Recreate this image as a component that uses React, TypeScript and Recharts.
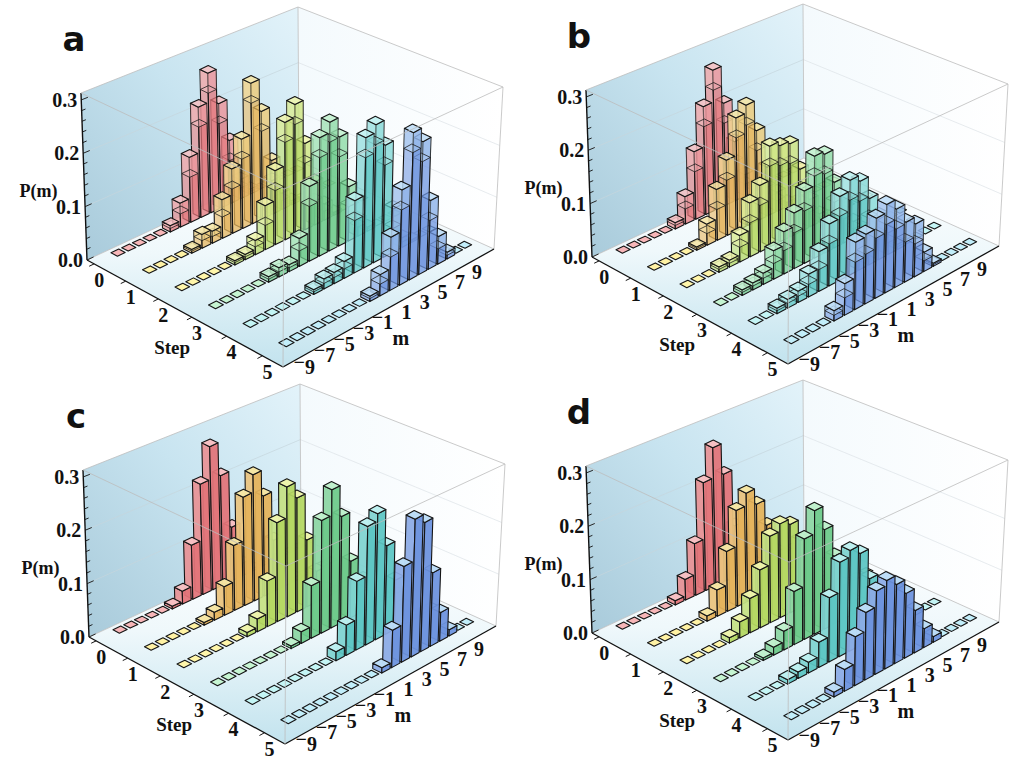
import React from 'react';
import { ComposedChart, Bar, Scatter, XAxis, YAxis, ReferenceLine } from 'recharts';

// ---------- categories / ticks ----------
const M_VALUES = [-9, -8, -7, -6, -5, -4, -3, -2, -1, 0, 1, 2, 3, 4, 5, 6, 7, 8, 9];
const STEP_VALUES = [0, 1, 2, 3, 4, 5];
const M_TICKS = [-9, -7, -5, -3, -1, 1, 3, 5, 7, 9];
const P_TICKS = [0, 0.1, 0.2, 0.3];

// ---------- panel a : P(m) per step (m = -9..9) ----------
const aStep0 = [0, 0, 0, 0, 0, 0.012, 0.046, 0.126, 0.215, 0.273, 0.205, 0.124, 0.038, 0.01, 0, 0, 0, 0, 0];
const aStep1 = [0, 0, 0, 0, 0.007, 0.026, 0.023, 0.074, 0.124, 0.173, 0.273, 0.21, 0.105, 0.032, 0.008, 0, 0, 0, 0];
const aStep2 = [0, 0, 0, 0, 0, 0.008, 0.01, 0.027, 0.084, 0.142, 0.226, 0.252, 0.168, 0.084, 0.032, 0.006, 0, 0, 0];
const aStep3 = [0, 0, 0, 0, 0, 0.01, 0.017, 0.013, 0.053, 0.142, 0.226, 0.247, 0.21, 0.105, 0.032, 0.008, 0, 0, 0];
const aStep4 = [0, 0, 0, 0, 0, 0, 0.009, 0.019, 0.021, 0.032, 0.137, 0.247, 0.263, 0.215, 0.084, 0.019, 0.005, 0, 0];
const aStep5 = [0, 0, 0, 0, 0, 0, 0, 0, 0.01, 0.04, 0.1, 0.179, 0.278, 0.252, 0.131, 0.053, 0.013, 0, 0];

// ---------- panel b ----------
const bStep0 = [0, 0, 0, 0, 0, 0.012, 0.053, 0.131, 0.21, 0.273, 0.2, 0.116, 0.042, 0.01, 0, 0, 0, 0, 0];
const bStep1 = [0, 0, 0, 0, 0.006, 0.04, 0.097, 0.144, 0.217, 0.233, 0.175, 0.095, 0.037, 0.008, 0, 0, 0, 0, 0];
const bStep2 = [0, 0, 0, 0.01, 0.013, 0.05, 0.102, 0.126, 0.192, 0.184, 0.179, 0.121, 0.053, 0.016, 0, 0, 0, 0, 0];
const bStep3 = [0, 0, 0.01, 0.013, 0.021, 0.053, 0.079, 0.105, 0.137, 0.194, 0.189, 0.126, 0.084, 0.032, 0.008, 0, 0, 0, 0];
const bStep4 = [0, 0, 0.01, 0.016, 0.021, 0.042, 0.074, 0.116, 0.158, 0.179, 0.168, 0.126, 0.084, 0.042, 0.01, 0, 0, 0, 0];
const bStep5 = [0, 0, 0, 0, 0.019, 0.058, 0.124, 0.129, 0.149, 0.165, 0.147, 0.113, 0.1, 0.037, 0.006, 0, 0, 0, 0];

// ---------- panel c ----------
const cStep0 = [0, 0, 0, 0, 0, 0.005, 0.025, 0.105, 0.215, 0.28, 0.215, 0.105, 0.025, 0.005, 0, 0, 0, 0, 0];
const cStep1 = [0, 0, 0, 0, 0, 0.005, 0.015, 0.055, 0.125, 0.21, 0.245, 0.195, 0.1, 0.035, 0.008, 0, 0, 0, 0];
const cStep2 = [0, 0, 0, 0, 0, 0, 0.008, 0.024, 0.087, 0.19, 0.25, 0.22, 0.13, 0.06, 0.015, 0, 0, 0, 0];
const cStep3 = [0, 0, 0, 0, 0, 0, 0, 0.005, 0.022, 0.1, 0.215, 0.265, 0.205, 0.11, 0.04, 0.01, 0, 0, 0];
const cStep4 = [0, 0, 0, 0, 0, 0, 0, 0, 0.017, 0.057, 0.13, 0.225, 0.24, 0.17, 0.095, 0.035, 0.008, 0, 0];
const cStep5 = [0, 0, 0, 0, 0, 0, 0, 0, 0, 0.01, 0.07, 0.18, 0.26, 0.245, 0.14, 0.055, 0.012, 0, 0];

// ---------- panel d ----------
const dStep0 = [0, 0, 0, 0, 0, 0.008, 0.04, 0.1, 0.21, 0.27, 0.21, 0.1, 0.035, 0.008, 0, 0, 0, 0, 0];
const dStep1 = [0, 0, 0, 0, 0, 0.01, 0.05, 0.115, 0.185, 0.21, 0.18, 0.13, 0.07, 0.025, 0.006, 0, 0, 0, 0];
const dStep2 = [0, 0, 0, 0, 0.01, 0.03, 0.065, 0.11, 0.165, 0.18, 0.17, 0.13, 0.08, 0.04, 0.015, 0.005, 0, 0, 0];
const dStep3 = [0, 0, 0, 0, 0.005, 0.015, 0.035, 0.1, 0.19, 0.235, 0.19, 0.13, 0.065, 0.025, 0.008, 0, 0, 0, 0];
const dStep4 = [0, 0, 0, 0.008, 0.012, 0.02, 0.047, 0.12, 0.177, 0.19, 0.175, 0.118, 0.07, 0.03, 0.01, 0, 0, 0, 0];
const dStep5 = [0, 0, 0, 0, 0.009, 0.04, 0.09, 0.125, 0.155, 0.165, 0.148, 0.122, 0.08, 0.036, 0.011, 0, 0, 0, 0];

// ---------- styling ----------
const SIDE = ['#e27479', '#e4b35a', '#b5d862', '#6cca8a', '#5cc6c4', '#6c93de'];
const TOP = ['#f7bfc2', '#f6e5a3', '#eef4aa', '#bff0cc', '#bcf0f0', '#bcdcf7'];
const FLAT = ['#f7b6b8', '#fff2a4', '#fff6aa', '#c6f5d2', '#c4f5f5', '#c2eefa'];
const LABEL_FONT = '"Liberation Serif", "Times New Roman", serif';

const W = 512;
const H = 385;

// ---------- perspective camera (box corners on screen) ----------
type Pt = [number, number];
const GROUND: Pt[] = [[87, 260], [299, 161], [494, 249], [283, 367]];
const CEIL: Pt[] = [[81, 93], [298, 7], [503, 87], [284, 189]];
const M_LO = -11.2, M_HI = 10.0, S_LO = -0.23, S_HI = 5.56, P_HI = 0.313;
const BAR_HALF_M = 0.42, BAR_HALF_S = 0.125;
const FLAT_SCALE_M = 0.86, FLAT_SCALE_S = 0.82;

function makeQuadMap(q: Pt[]) {
  const [[x0, y0], [x1, y1], [x2, y2], [x3, y3]] = q;
  const dx1 = x1 - x2, dx2 = x3 - x2, dx3 = x0 - x1 + x2 - x3;
  const dy1 = y1 - y2, dy2 = y3 - y2, dy3 = y0 - y1 + y2 - y3;
  const den = dx1 * dy2 - dx2 * dy1;
  const g = (dx3 * dy2 - dx2 * dy3) / den;
  const h = (dx1 * dy3 - dx3 * dy1) / den;
  const a = x1 - x0 + g * x1, b = x3 - x0 + h * x3, c = x0;
  const d = y1 - y0 + g * y1, e = y3 - y0 + h * y3, f = y0;
  return (u: number, v: number): Pt => {
    const w = g * u + h * v + 1;
    return [(a * u + b * v + c) / w, (d * u + e * v + f) / w];
  };
}
const groundMap = makeQuadMap(GROUND);
const ceilMap = makeQuadMap(CEIL);

function proj(m: number, s: number, p: number): Pt {
  const u = (m - M_LO) / (M_HI - M_LO);
  const v = (s - S_LO) / (S_HI - S_LO);
  const g = groundMap(u, v);
  const c = ceilMap(u, v);
  const t = p / P_HI;
  return [g[0] + (c[0] - g[0]) * t, g[1] + (c[1] - g[1]) * t];
}

function mix(hex: string, target: number, k: number) {
  const n = parseInt(hex.slice(1), 16);
  const ch = [(n >> 16) & 255, (n >> 8) & 255, n & 255].map((v) => Math.round(v + (target - v) * k));
  return `rgb(${ch[0]},${ch[1]},${ch[2]})`;
}

// ---------- bar shape (3D box) ----------
function BoxShape(props: any) {
  const { x, y, width, height, payload: d } = props;
  if (x == null || y == null || !d) return null;
  const cx = x + (width || 0) / 2;
  const yb = Math.max(y, y + (height || 0));
  const yt = Math.min(y, y + (height || 0));
  const [fmx, fmy] = d.fm;
  const [fsx, fsy] = d.fs;
  const C = (px: number, py: number, a: number, b: number): Pt => [px + a * fmx + b * fsx, py + a * fmy + b * fsy];
  const pts = (arr: Pt[]) => arr.map((p) => `${p[0].toFixed(2)},${p[1].toFixed(2)}`).join(' ');
  const stroke = '#151515';
  const sw = 1.1;
  const hpx = yb - yt;
  if (hpx < 0.6) {
    const km = FLAT_SCALE_M, ks = FLAT_SCALE_S;
    const f1 = C(cx, yb, -km, -ks), f2 = C(cx, yb, -km, ks), f3 = C(cx, yb, km, ks), f4 = C(cx, yb, km, -ks);
    return <polygon points={pts([f1, f2, f3, f4])} fill={FLAT[d.step]} stroke={stroke} strokeWidth={1.1} strokeLinejoin="round" />;
  }
  const b1 = C(cx, yb, -1, -1), b2 = C(cx, yb, -1, 1), b3 = C(cx, yb, 1, 1);
  const tx = cx + d.lean;
  const t1 = C(tx, yt, -1, -1), t2 = C(tx, yt, -1, 1), t3 = C(tx, yt, 1, 1), t4 = C(tx, yt, 1, -1);
  const op = d.solid ? 0.94 : 0.74;
  const side = SIDE[d.step];
  const light = mix(side, 255, 0.22);
  const els: any[] = [
    <polygon key="l" points={pts([b1, b2, t2, t1])} fill={light} fillOpacity={op} stroke={stroke} strokeWidth={sw} strokeLinejoin="round" />,
    <polygon key="r" points={pts([b2, b3, t3, t2])} fill={side} fillOpacity={op} stroke={stroke} strokeWidth={sw} strokeLinejoin="round" />,
  ];
  if (!d.solid) {
    const seg = Math.min(20, hpx * 0.45);
    const f = seg / hpx;
    const ix = tx - d.lean * f, iy = yt + seg;
    const i1 = C(ix, iy, -1, -1), i2 = C(ix, iy, -1, 1), i3 = C(ix, iy, 1, 1), i4 = C(ix, iy, 1, -1);
    els.push(<polygon key="sl" points={pts([i1, i2, t2, t1])} fill={TOP[d.step]} fillOpacity={0.45} stroke="none" />);
    els.push(<polygon key="sr" points={pts([i2, i3, t3, t2])} fill={TOP[d.step]} fillOpacity={0.4} stroke="none" />);
    els.push(<polygon key="in" points={pts([i1, i2, i3, i4])} fill="none" stroke={stroke} strokeWidth={0.9} strokeOpacity={0.85} />);
  }
  els.push(<polygon key="t" points={pts([t1, t2, t3, t4])} fill={TOP[d.step]} fillOpacity={d.solid ? 0.98 : 0.85} stroke={stroke} strokeWidth={sw} strokeLinejoin="round" />);
  return <g>{els}</g>;
}

function PolyShape(props: any) {
  const { cx, cy, payload } = props;
  if (cx == null || !payload) return null;
  const p = payload.rel.map((r: Pt) => `${(cx + r[0]).toFixed(2)},${(cy + r[1]).toFixed(2)}`).join(' ');
  return <polygon points={p} fill={payload.fill} stroke="none" />;
}

function TextShape(props: any) {
  const { cx, cy, payload } = props;
  if (cx == null || !payload) return null;
  const common = {
    fontFamily: payload.family || LABEL_FONT,
    fontWeight: payload.weight || 700,
    fontSize: payload.size || 20,
    fill: '#111',
  };
  if (payload.neg) {
    return (
      <text x={cx} y={cy} textAnchor="end" dominantBaseline="central" {...common}>
        <tspan dy={-5}>{'\u2212'}</tspan>
        <tspan dy={5}>{payload.text}</tspan>
      </text>
    );
  }
  return (
    <text x={cx} y={cy} textAnchor={payload.anchor || 'middle'} dominantBaseline="central" {...common}>
      {payload.text}
    </text>
  );
}

type Seg = { a: Pt; b: Pt; stroke: string; w: number };

function buildPanel(rows: number[][], solid: boolean, letter: string) {
  const bars: any[] = [];
  rows.forEach((vals, si) => {
    vals.forEach((p, mi) => {
      const m = M_VALUES[mi];
      const s = STEP_VALUES[si];
      const base = proj(m, s, 0);
      const top = proj(m, s, p);
      const pm = proj(m + BAR_HALF_M, s, 0);
      const ps = proj(m, s + BAR_HALF_S, 0);
      bars.push({
        x: base[0],
        range: [base[1], top[1]],
        lean: top[0] - base[0],
        fm: [pm[0] - base[0], pm[1] - base[1]],
        fs: [ps[0] - base[0], ps[1] - base[1]],
        step: si,
        m,
        s,
        solid,
      });
    });
  });
  bars.sort((a, b) => a.s - b.s || b.m - a.m);

  const A = proj(M_LO, S_LO, 0), B = proj(M_LO, S_HI, 0), C = proj(M_HI, S_HI, 0), D = proj(M_HI, S_LO, 0);
  const A2 = proj(M_LO, S_LO, P_HI), B2 = proj(M_LO, S_HI, P_HI), C2 = proj(M_HI, S_HI, P_HI), D2 = proj(M_HI, S_LO, P_HI);
  const rel = (anchor: Pt, list: Pt[]) => list.map((p) => [p[0] - anchor[0], p[1] - anchor[1]] as Pt);
  const walls = [
    { x: A[0], y: A[1], rel: rel(A, [A, D, D2, A2]), fill: `url(#wallL-${letter})` },
    { x: D[0], y: D[1], rel: rel(D, [D, C, C2, D2]), fill: `url(#wallR-${letter})` },
    { x: A[0], y: A[1], rel: rel(A, [A, D, C, B]), fill: `url(#floor-${letter})` },
  ];

  const gray = '#bcbcbc';
  const back: Seg[] = [];
  [0.1, 0.2].forEach((p) => {
    back.push({ a: proj(M_LO, S_LO, p), b: proj(M_HI, S_LO, p), stroke: '#c6d5dc', w: 0.7 });
    back.push({ a: proj(M_HI, S_LO, p), b: proj(M_HI, S_HI, p), stroke: '#dde3e6', w: 0.7 });
  });
  back.push({ a: A, b: D, stroke: gray, w: 0.8 });
  back.push({ a: D, b: C, stroke: gray, w: 0.8 });
  back.push({ a: D, b: D2, stroke: gray, w: 0.8 });
  back.push({ a: A2, b: D2, stroke: gray, w: 0.8 });
  back.push({ a: D2, b: C2, stroke: gray, w: 0.8 });
  back.push({ a: C, b: C2, stroke: gray, w: 0.8 });
  back.push({ a: A, b: B, stroke: '#111', w: 1.3 });
  back.push({ a: B, b: C, stroke: '#111', w: 1.3 });
  back.push({ a: A, b: A2, stroke: '#111', w: 1.4 });
  STEP_VALUES.forEach((s) => back.push({ a: proj(M_LO, s, 0), b: proj(M_LO - 0.45, s, 0), stroke: '#111', w: 1 }));
  for (let k = 0; k <= 15; k++) {
    const p = k * 0.02;
    const major = k % 5 === 0;
    back.push({ a: proj(M_LO, S_LO, p), b: proj(M_LO + (major ? 0.6 : 0.35), S_LO, p), stroke: '#111', w: 0.9 });
  }

  const front: Seg[] = [
    { a: B, b: B2, stroke: gray, w: 0.8 },
    { a: A2, b: B2, stroke: gray, w: 0.8 },
    { a: B2, b: C2, stroke: gray, w: 0.8 },
  ];

  const labels: any[] = [];
  P_TICKS.forEach((p) => {
    const pt = proj(M_LO, S_LO, p);
    labels.push({ x: pt[0] - 4, y: pt[1], text: p.toFixed(1), anchor: 'end' });
  });
  STEP_VALUES.forEach((s) => {
    const pt = proj(M_LO, s, 0);
    labels.push({ x: pt[0] + 5, y: pt[1] + 16, text: String(s) });
  });
  M_TICKS.forEach((m) => {
    const pt = proj(m, S_HI, 0);
    const t = (m - M_TICKS[0]) / (M_TICKS[M_TICKS.length - 1] - M_TICKS[0]);
    const dx = 3 - 11 * t;
    const dy = 13 + 5 * t;
    if (m < 0) labels.push({ x: pt[0] + dx + 5, y: pt[1] + dy, text: String(-m), neg: true });
    else labels.push({ x: pt[0] + dx, y: pt[1] + dy, text: String(m) });
  });
  const pm = proj(M_LO, S_LO, 0.13);
  labels.push({ x: pm[0] - 27, y: pm[1], text: 'P(m)', anchor: 'end', size: 18 });
  const st = proj(M_LO, 2.8, 0);
  labels.push({ x: st[0] - 13, y: st[1] + 34, text: 'Step', size: 19 });
  const mm = proj(0, S_HI, 0);
  labels.push({ x: mm[0] + 1, y: mm[1] + 36, text: 'm', size: 20 });
  labels.push({ x: 74, y: 39, text: letter, size: 34, family: '"DejaVu Sans", sans-serif', weight: 900 });

  return { bars, walls, back, front, labels };
}

const PANELS = [
  { id: 'a', rows: [aStep0, aStep1, aStep2, aStep3, aStep4, aStep5], left: 0, top: 0, solid: false },
  { id: 'b', rows: [bStep0, bStep1, bStep2, bStep3, bStep4, bStep5], left: 505, top: -3, solid: false },
  { id: 'c', rows: [cStep0, cStep1, cStep2, cStep3, cStep4, cStep5], left: 2, top: 377, solid: true },
  { id: 'd', rows: [dStep0, dStep1, dStep2, dStep3, dStep4, dStep5], left: 505, top: 373, solid: true },
];

function Panel({ id, rows, solid }: { id: string; rows: number[][]; solid: boolean }) {
  const { bars, walls, back, front, labels } = buildPanel(rows, solid, id);
  const line = (s: Seg, i: number, z: number, pre: string) => (
    <ReferenceLine
      key={`${pre}${i}`}
      segment={[{ x: s.a[0], y: s.a[1] }, { x: s.b[0], y: s.b[1] }]}
      stroke={s.stroke}
      strokeWidth={s.w}
      ifOverflow="visible"
      zIndex={z}
    />
  );
  return (
    <ComposedChart width={W} height={H} data={bars} margin={{ top: 0, right: 0, bottom: 0, left: 0 }}>
      <defs>
        <linearGradient id={`wallL-${id}`} x1="0" y1="1" x2="1" y2="0">
          <stop offset="0%" stopColor="#a8cada" />
          <stop offset="55%" stopColor="#c8e4f0" />
          <stop offset="100%" stopColor="#e3f3fa" />
        </linearGradient>
        <linearGradient id={`wallR-${id}`} x1="0" y1="0" x2="1" y2="0">
          <stop offset="0%" stopColor="#f4fafd" />
          <stop offset="100%" stopColor="#ffffff" />
        </linearGradient>
        <linearGradient id={`floor-${id}`} x1="0" y1="0" x2="0" y2="1">
          <stop offset="0%" stopColor="#ffffff" />
          <stop offset="45%" stopColor="#eff8fb" />
          <stop offset="100%" stopColor="#c2e3ee" />
        </linearGradient>
      </defs>
      <XAxis type="number" dataKey="x" domain={[0, W]} allowDataOverflow hide />
      <YAxis type="number" domain={[0, H]} allowDataOverflow reversed hide />
      <Scatter data={walls} dataKey="y" shape={PolyShape} isAnimationActive={false} zIndex={10} />
      {back.map((s, i) => line(s, i, 20, 'b'))}
      <Bar dataKey="range" barSize={4} shape={BoxShape} isAnimationActive={false} zIndex={300} />
      {front.map((s, i) => line(s, i, 400, 'f'))}
      <Scatter data={labels} dataKey="y" shape={TextShape} isAnimationActive={false} zIndex={500} />
    </ComposedChart>
  );
}

export default function App() {
  return (
    <div style={{ position: 'absolute', left: 0, top: 0, width: 1024, height: 768, background: '#fff', overflow: 'hidden' }}>
      {PANELS.map((p) => (
        <div key={p.id} style={{ position: 'absolute', left: p.left, top: p.top, width: W, height: H }}>
          <Panel id={p.id} rows={p.rows} solid={p.solid} />
        </div>
      ))}
    </div>
  );
}
